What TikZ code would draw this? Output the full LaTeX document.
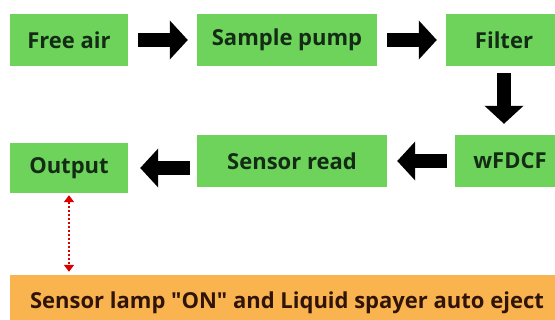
\documentclass[tikz,border=0pt]{standalone}
\usepackage{fontspec}
\setmainfont{Open Sans}
\usetikzlibrary{arrows.meta}

\definecolor{boxgreen}{RGB}{109,211,91}
\definecolor{boxorange}{RGB}{249,180,80}
\definecolor{textgreen}{RGB}{20,44,22}
\definecolor{textbrown}{RGB}{48,20,8}

\begin{document}
\begin{tikzpicture}[x=1pt,y=-1pt,
stepbox/.style={fill=boxgreen, text=textgreen, font=\fontsize{22}{26}\selectfont\bfseries,
    minimum height=52pt, inner sep=0pt, align=center},
flow/.style={line width=14pt, -{Triangle[length=18pt,width=38pt]}},
link/.style={red!85!black, line width=2pt, dotted, {Triangle[length=7pt,width=10pt]}-{Triangle[length=7pt,width=10pt]}}]
    \clip (0,0) rectangle (555,320);
    \fill [white] (0,0) rectangle (555,320);
    % first row
    \node [stepbox, minimum width=118pt] (free) at (69,40) {Free air};
    \node [stepbox, minimum width=180pt] (pump) at (287,40) {Sample pump};
    \node [stepbox, minimum width=116pt] (filter) at (504,40) {Filter};
    % second row
    \node [stepbox, minimum width=110pt] (wfdcf) at (510,161) {wFDCF};
    \node [stepbox, minimum width=190pt] (sensor) at (292,161) {Sensor read};
    \node [stepbox, minimum width=118pt, minimum height=50pt] (out) at (69,168) {Output};
    % bottom bar
    \node [fill=boxorange, text=textbrown, font=\fontsize{22}{26}\selectfont\bfseries,
        minimum width=554pt, minimum height=56pt, inner sep=0pt] (lamp) at (287,303)
        {Sensor lamp \textquotedbl ON\textquotedbl\ and Liquid spayer auto eject};

    \draw [flow, shorten <=10pt, shorten >=9pt] (free) -- (pump);
    \draw [flow, shorten <=10pt, shorten >=9pt] (pump) -- (filter);
    \draw [flow, shorten <=7pt, shorten >=11pt] (filter.south) -- (filter.south |- wfdcf.north);
    \draw [flow, shorten <=8pt, shorten >=10pt] (wfdcf) -- (sensor);
    \draw [flow, shorten <=7pt, shorten >=12pt] (sensor.west |- out.east) -- (out.east);
    \draw [link, shorten <=2pt, shorten >=3pt] (out.south) -- (out.south |- lamp.north);
\end{tikzpicture}
\end{document}
